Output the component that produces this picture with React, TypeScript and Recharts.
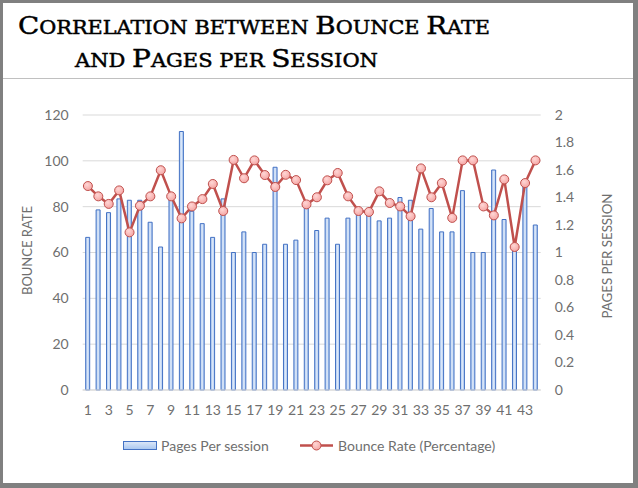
import React from "react";
import {
  ComposedChart,
  Bar,
  Line,
  XAxis,
  YAxis,
  CartesianGrid,
} from "recharts";

const categories = [
  1, 2, 3, 4, 5, 6, 7, 8, 9, 10, 11, 12, 13, 14, 15, 16, 17, 18, 19, 20, 21, 22,
  23, 24, 25, 26, 27, 28, 29, 30, 31, 32, 33, 34, 35, 36, 37, 38, 39, 40, 41, 42,
  43, 44,
];

const pagesPerSession = [
  1.11, 1.31, 1.29, 1.39, 1.38, 1.38, 1.22, 1.04, 1.39, 1.88, 1.3, 1.21, 1.11,
  1.39, 1.0, 1.15, 1.0, 1.06, 1.62, 1.06, 1.09, 1.36, 1.16, 1.25, 1.06, 1.25,
  1.29, 1.29, 1.23, 1.25, 1.4, 1.38, 1.17, 1.32, 1.15, 1.15, 1.45, 1.0, 1.0,
  1.6, 1.24, 1.04, 1.51, 1.2,
];

const bounceRate = [
  89.0, 84.5, 81.2, 87.1, 68.8, 80.4, 84.5, 95.9, 84.5, 74.9, 80.1, 83.3, 89.9,
  78.1, 100.4, 92.4, 100.2, 93.8, 88.6, 93.9, 91.6, 81.0, 84.1, 91.5, 94.7,
  84.5, 78.1, 77.7, 86.7, 81.6, 80.1, 75.8, 96.7, 84.1, 90.3, 75.1, 100.2,
  100.2, 80.1, 76.2, 91.9, 62.4, 90.3, 100.2,
];

const leftTicks = [0, 20, 40, 60, 80, 100, 120];
const rightTicks = [0, 0.2, 0.4, 0.6, 0.8, 1, 1.2, 1.4, 1.6, 1.8, 2];

const titleLine1 = "Correlation between Bounce Rate";
const titleLine2 = "and Pages per Session";
const leftAxisTitle = "BOUNCE RATE";
const rightAxisTitle = "PAGES PER SESSION";
const barLegend = "Pages Per session";
const lineLegend = "Bounce Rate (Percentage)";

const data = categories.map((c, i) => ({
  cat: c,
  pages: pagesPerSession[i],
  bounce: bounceRate[i],
}));

const FONT = "Lato, 'Open Sans', sans-serif";
const TICK_COLOR = "#6f6f6f";
const BAR_STROKE = "#4472c4";
const LINE_COLOR = "#c0504d";

const tickStyle = { fontSize: 14, fill: TICK_COLOR, fontFamily: FONT };

// Copperplate-like small caps: capitals large, lower-case letters as smaller capitals
function smallCaps(text: string, big: number, small: number) {
  const parts: { s: string; big: boolean }[] = [];
  for (const ch of text) {
    const isBig = ch !== " " && ch === ch.toUpperCase() && ch !== ch.toLowerCase();
    const last = parts[parts.length - 1];
    if (last && last.big === isBig) last.s += ch;
    else parts.push({ s: ch, big: isBig });
  }
  return parts.map((p, i) => (
    <tspan key={i} fontSize={p.big ? big : small}>
      {p.s.toUpperCase()}
    </tspan>
  ));
}

export default function App() {
  return (
    <div
      style={{
        position: "absolute",
        left: 0,
        top: 0,
        width: 638,
        height: 488,
        background: "#808080",
        overflow: "hidden",
      }}
    >
      <div
        style={{
          position: "absolute",
          left: 3,
          top: 3,
          width: 630,
          height: 480,
          background: "#ffffff",
        }}
      />
      <svg
        width={638}
        height={488}
        style={{ position: "absolute", left: 0, top: 0 }}
      >
        <defs>
          <linearGradient id="barFill" x1="0" y1="0" x2="1" y2="0">
            <stop offset="0%" stopColor="#a8c6f0" />
            <stop offset="50%" stopColor="#dde8f8" />
            <stop offset="100%" stopColor="#a8c6f0" />
          </linearGradient>
          <linearGradient id="legendFill" x1="0" y1="0" x2="0" y2="1">
            <stop offset="0%" stopColor="#dde8f8" />
            <stop offset="100%" stopColor="#a8c6f0" />
          </linearGradient>
          <radialGradient id="dotFill" cx="0.4" cy="0.35" r="0.7">
            <stop offset="0%" stopColor="#ffd6d5" />
            <stop offset="100%" stopColor="#f4a3a1" />
          </radialGradient>
        </defs>
        <g
          fontFamily="'DejaVu Serif', serif"
          fill="#000000"
          stroke="#000000"
          strokeWidth={0.45}
        >
          <text x={18} y={34} textLength={472} lengthAdjust="spacingAndGlyphs">
            {smallCaps(titleLine1, 24, 18)}
          </text>
          <text x={75} y={67} textLength={303} lengthAdjust="spacingAndGlyphs">
            {smallCaps(titleLine2, 24, 18)}
          </text>
        </g>
        <line x1={3} x2={633} y1={78.5} y2={78.5} stroke="#c0c0c0" strokeWidth={1} />
        <text
          transform="translate(26,250.5) rotate(-90)"
          textAnchor="middle"
          dominantBaseline="central"
          fontFamily={FONT}
          fontSize={14}
          fill={TICK_COLOR}
          textLength={89}
          lengthAdjust="spacingAndGlyphs"
        >
          {leftAxisTitle}
        </text>
        <text
          transform="translate(606.5,256) rotate(-90)"
          textAnchor="middle"
          dominantBaseline="central"
          fontFamily={FONT}
          fontSize={14}
          fill={TICK_COLOR}
          textLength={125}
          lengthAdjust="spacingAndGlyphs"
        >
          {rightAxisTitle}
        </text>
        <rect
          x={123.5}
          y={441.5}
          width={33}
          height={8}
          fill="url(#legendFill)"
          stroke={BAR_STROKE}
          strokeWidth={1}
        />
        <text
          x={161}
          y={445.5}
          dominantBaseline="central"
          fontFamily={FONT}
          fontSize={14}
          fill={TICK_COLOR}
        >
          {barLegend}
        </text>
        <line x1={300} x2={333} y1={445.5} y2={445.5} stroke={LINE_COLOR} strokeWidth={2.5} />
        <circle cx={316.5} cy={445.5} r={4.5} fill="url(#dotFill)" stroke={LINE_COLOR} strokeWidth={1} />
        <text
          x={338}
          y={445.5}
          dominantBaseline="central"
          fontFamily={FONT}
          fontSize={14}
          fill={TICK_COLOR}
        >
          {lineLegend}
        </text>
      </svg>
      <div style={{ position: "absolute", left: 0, top: 0 }}>
        <ComposedChart
          width={638}
          height={488}
          data={data}
          margin={{ top: 115, right: 47.3, bottom: 68, left: 42.7 }}
          barCategoryGap={0}
        >
          <CartesianGrid
            yAxisId="left"
            vertical={false}
            stroke="#d9d9d9"
            strokeWidth={1}
          />
          <XAxis
            dataKey="cat"
            interval={1}
            height={30}
            tickLine={false}
            axisLine={{ stroke: "#d9d9d9" }}
            tick={tickStyle}
            tickMargin={9}
          />
          <YAxis
            yAxisId="left"
            orientation="left"
            width={40}
            domain={[0, 120]}
            ticks={leftTicks}
            tickLine={false}
            axisLine={false}
            tick={tickStyle}
            tickMargin={8}
          />
          <YAxis
            yAxisId="right"
            orientation="right"
            width={50}
            domain={[0, 2]}
            ticks={rightTicks}
            tickLine={false}
            axisLine={false}
            tick={{ ...tickStyle, textAnchor: "start" }}
            tickMargin={8}
          />
          <Bar
            yAxisId="right"
            dataKey="pages"
            barSize={4}
            fill="url(#barFill)"
            stroke={BAR_STROKE}
            strokeWidth={1}
            isAnimationActive={false}
          />
          <Line
            yAxisId="left"
            dataKey="bounce"
            type="linear"
            stroke={LINE_COLOR}
            strokeWidth={2.5}
            dot={{ r: 4.5, fill: "url(#dotFill)", stroke: LINE_COLOR, strokeWidth: 1 }}
            activeDot={false}
            isAnimationActive={false}
          />
        </ComposedChart>
      </div>
    </div>
  );
}
